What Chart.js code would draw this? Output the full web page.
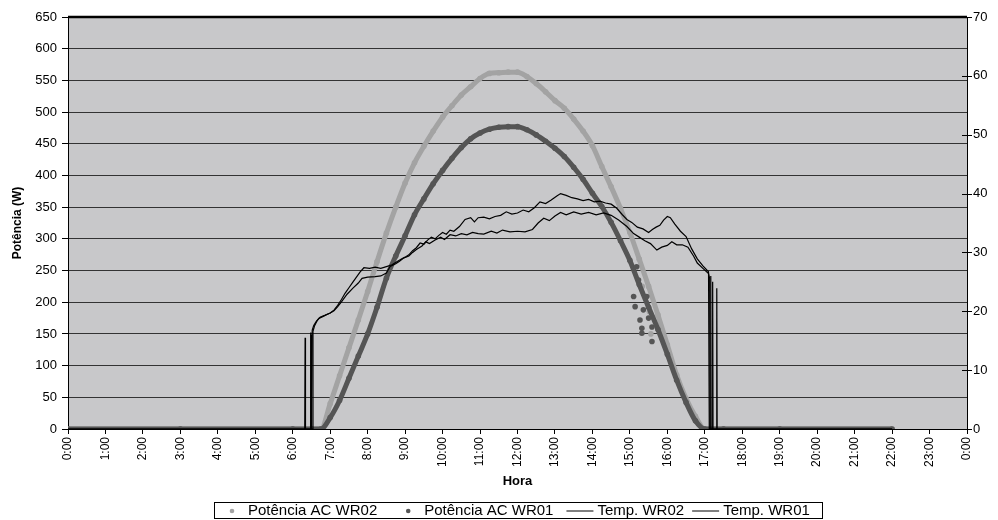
<!DOCTYPE html>
<html>
<head>
<meta charset="utf-8">
<script src="https://cdn.jsdelivr.net/npm/chart.js@4.4.1/dist/chart.umd.min.js"></script>
<style>
  html, body { margin: 0; padding: 0; background: #ffffff; }
  #wrap { width: 998px; height: 520px; }
</style>
</head>
<body>
<div id="wrap"><canvas id="chart" width="998" height="520"></canvas></div>
<script>
// Time of day in hours for the AC power readings
const powerHours = [0, 3, 6, 6.5,
  6.75, 7.0, 7.25, 7.5, 7.75, 8.0, 8.25, 8.5, 8.75, 9.0, 9.25, 9.5, 9.75,
  10.0, 10.25, 10.5, 10.75, 11.0, 11.25, 11.5, 11.75, 12.0, 12.25, 12.5, 12.75,
  13.0, 13.25, 13.5, 13.75, 14.0, 14.25, 14.5, 14.75, 15.0, 15.25, 15.5, 15.75,
  16.0, 16.25, 16.5, 16.75, 17.0,
  17.5, 19, 22];

// AC power (W)
const powerWR02 = [0, 0, 0, 0,
  0, 40, 84, 128, 172, 217, 264, 309, 350, 388, 420, 446, 470,
  492, 510, 527, 540, 553, 561, 562, 563, 563, 556, 545, 532,
  518, 506, 489, 470, 447, 414, 382, 348, 310, 268, 225, 180,
  133, 85, 48, 20, 0,
  0, 0, 0];
const powerWR01 = [0, 0, 0, 0,
  0, 18, 45, 80, 115, 150, 192, 238, 273, 305, 338, 363, 387,
  408, 427, 444, 458, 467, 473, 476, 477, 477, 472, 464, 454,
  443, 430, 413, 394, 372, 351, 326, 297, 266, 228, 192, 157,
  118, 77, 42, 13, 0,
  0, 0, 0];

// Scattered afternoon readings (passing clouds)
const dipHoursWR01 = [15.10, 15.14, 15.18, 15.23, 15.27, 15.32, 15.32, 15.36, 15.45, 15.50, 15.59, 15.59];
const dipPowerWR01 = [209, 193, 256, 235, 172, 159, 151, 188, 209, 175, 161, 138];
const dipHoursWR02 = [15.33, 15.52, 15.56];
const dipPowerWR02 = [225, 185, 150];

// Inverter temperature (°C)
const tempHoursWR02 = [0, 6.32, 6.33, 6.34, 6.47, 6.48, 6.49, 6.51, 6.52, 6.56, 6.62, 6.7, 6.8, 6.9,
  7.0, 7.1, 7.2, 7.3, 7.4, 7.5, 7.6, 7.7, 7.8, 7.9, 8.05, 8.2, 8.35, 8.5, 8.65, 8.8, 8.9,
  9.0, 9.1, 9.2, 9.3, 9.4, 9.5, 9.6, 9.7, 9.8, 9.9, 10.0, 10.1, 10.2, 10.3, 10.45, 10.6,
  10.75, 10.85, 10.95, 11.1, 11.25, 11.4, 11.55, 11.7, 11.85, 12.0, 12.15, 12.3, 12.45,
  12.6, 12.75, 12.9, 13.05, 13.15, 13.3, 13.45, 13.6, 13.75, 13.9, 14.05, 14.2, 14.35,
  14.5, 14.65, 14.8, 14.92, 15.05, 15.2, 15.35, 15.5, 15.6, 15.7, 15.8, 15.9, 16.0,
  16.08, 16.2, 16.35, 16.5, 16.65, 16.8, 16.95, 17.1, 17.12, 17.15, 17.16, 17.17, 22.0];
const tempWR02 = [0, 0, 15.5, 0, 0, 16.4, 0, 0, 16.8, 17.6, 18.2, 18.8, 19.1, 19.4,
  19.7, 20.2, 21.0, 22.0, 23.1, 24.0, 24.9, 25.8, 26.7, 27.4, 27.3, 27.5, 27.3, 27.6, 27.9, 28.5, 28.9,
  29.2, 29.6, 30.3, 30.8, 31.6, 31.4, 32.1, 32.6, 32.3, 32.9, 33.4, 33.1, 33.8, 33.6, 34.4, 35.6,
  35.9, 35.2, 35.9, 36.0, 35.7, 36.1, 36.3, 36.9, 36.5, 36.7, 37.2, 36.9, 37.6,
  38.6, 38.3, 38.9, 39.6, 40.0, 39.7, 39.3, 39.1, 38.8, 39.0, 38.6, 38.7, 38.4,
  38.2, 37.5, 36.4, 35.6, 35.1, 34.3, 34.0, 33.4, 33.9, 34.3, 34.6, 35.5, 36.1,
  35.9, 34.8, 33.6, 32.7, 30.6, 28.9, 27.7, 26.7, 0, 0, 26.0, 0, 0];

const tempHoursWR01 = [0, 6.48, 6.49, 6.5, 6.53, 6.54, 6.58, 6.65, 6.73, 6.85,
  7.0, 7.1, 7.2, 7.3, 7.45, 7.6, 7.75, 7.85, 8.0, 8.2, 8.35, 8.5, 8.6, 8.75, 8.85, 8.95,
  9.1, 9.2, 9.3, 9.45, 9.55, 9.65, 9.8, 9.95, 10.05, 10.2, 10.35, 10.5, 10.65, 10.8, 10.95,
  11.1, 11.3, 11.45, 11.6, 11.8, 12.0, 12.2, 12.4, 12.55, 12.7, 12.85, 13.0, 13.15, 13.3,
  13.5, 13.7, 13.9, 14.1, 14.3, 14.5, 14.7, 14.92, 15.1, 15.25, 15.4, 15.55, 15.72, 15.85,
  16.0, 16.12, 16.25, 16.4, 16.55, 16.7, 16.8, 16.95, 17.1, 17.13, 17.14, 17.2, 17.21, 17.22,
  17.31, 17.32, 17.33, 22.0];
const tempWR01 = [0, 0, 16.0, 0, 0, 16.6, 17.5, 18.4, 19.0, 19.3,
  19.7, 20.1, 20.8, 21.6, 22.9, 23.9, 24.8, 25.6, 25.8, 25.9, 26.0, 26.5, 27.6, 28.1, 28.5, 29.0,
  29.4, 30.0, 30.5, 31.1, 31.8, 31.5, 32.1, 32.6, 32.2, 33.0, 32.8, 33.2, 33.0, 33.4, 33.2,
  33.1, 33.6, 33.3, 33.8, 33.5, 33.6, 33.5, 33.9, 35.0, 35.8, 35.4, 36.2, 36.8, 36.4,
  36.9, 36.5, 36.8, 36.4, 36.7, 36.3, 35.5, 34.4, 33.2, 32.6, 32.0, 31.5, 30.4, 30.9,
  31.2, 31.8, 31.3, 31.3, 30.9, 29.4, 28.2, 27.3, 26.4, 25.6, 0, 0, 25.0, 0,
  0, 23.9, 0, 0];

const seriesLabels = ['Potência AC WR02', 'Potência AC WR01', 'Temp. WR02', 'Temp. WR01'];

const LIGHT = '#a3a3a3';
const DARK = '#555555';
const FONT = '"Liberation Sans", Arial, sans-serif';

const xy = (hs, vs) => hs.map((h, i) => ({ x: h, y: vs[i] }));

function hourLabel(v) {
  return (v % 24) + ':00';
}

// Plot background, heavy top rule, right-axis ticks and the boxed legend
const framePlugin = {
  id: 'framePlugin',
  beforeDraw(chart) {
    const { ctx, chartArea: a } = chart;
    ctx.save();
    ctx.fillStyle = '#c8c8ca';
    ctx.fillRect(a.left, a.top, a.right - a.left, a.bottom - a.top);
    ctx.restore();
  },
  afterDraw(chart) {
    const { ctx, chartArea: a } = chart;
    ctx.save();
    ctx.strokeStyle = '#000';
    ctx.lineWidth = 2.5;
    ctx.beginPath();
    ctx.moveTo(a.left, a.top);
    ctx.lineTo(a.right, a.top);
    ctx.stroke();
    ctx.lineWidth = 1;
    ctx.beginPath();
    ctx.moveTo(a.right + 0.5, a.top);
    ctx.lineTo(a.right + 0.5, a.bottom);
    ctx.stroke();
    // crossing ticks on the right axis
    const y2 = chart.scales.y2;
    y2.ticks.forEach(t => {
      const py = Math.round(y2.getPixelForValue(t.value)) + 0.5;
      ctx.beginPath();
      ctx.moveTo(a.right - 5, py);
      ctx.lineTo(a.right + 5, py);
      ctx.stroke();
    });

    // legend: dot / line swatch followed by the series name
    ctx.font = '15px ' + FONT;
    ctx.textBaseline = 'middle';
    const items = chart.data.datasets.filter(d => d.legendKind);
    const padL = 18, padR = 12;
    const dotToText = 16, lineLen = 27, lineToText = 4;
    const gapBefore = { dot: 31, line: 13 };
    let total = padL + padR;
    items.forEach((d, i) => {
      if (i > 0) total += d.legendKind === 'dot' ? gapBefore.dot : (items[i - 1].legendKind === 'dot' ? gapBefore.line : 8);
      total += (d.legendKind === 'dot' ? dotToText : lineLen + lineToText) + ctx.measureText(d.label).width;
    });
    const cx = (a.left + a.right) / 2;
    const boxL = Math.round(cx - total / 2);
    const boxW = Math.round(total);
    const boxT = 502, boxH = 16;
    ctx.strokeStyle = '#000';
    ctx.lineWidth = 1;
    ctx.strokeRect(boxL + 0.5, boxT + 0.5, boxW, boxH);
    const ty = boxT + boxH / 2 + 1;
    let x = boxL + padL;
    items.forEach((d, i) => {
      if (i > 0) x += d.legendKind === 'dot' ? gapBefore.dot : (items[i - 1].legendKind === 'dot' ? gapBefore.line : 8);
      if (d.legendKind === 'dot') {
        ctx.fillStyle = d.borderColor;
        ctx.beginPath();
        ctx.arc(x, ty, 2.3, 0, Math.PI * 2);
        ctx.fill();
        x += dotToText;
      } else {
        ctx.strokeStyle = '#000';
        ctx.lineWidth = 1;
        ctx.beginPath();
        ctx.moveTo(x, ty);
        ctx.lineTo(x + lineLen, ty);
        ctx.stroke();
        x += lineLen + lineToText;
      }
      ctx.fillStyle = '#000';
      ctx.fillText(d.label, x, ty);
      x += ctx.measureText(d.label).width;
    });
    ctx.restore();
  }
};

const powerStyle = color => ({
  borderColor: color,
  backgroundColor: color,
  borderWidth: 5,
  pointRadius: 2.8,
  pointHoverRadius: 2.8,
  pointBorderWidth: 0,
  cubicInterpolationMode: 'monotone',
  showLine: true,
  yAxisID: 'y'
});

const tempStyle = {
  borderColor: '#000',
  backgroundColor: '#000',
  borderWidth: 1.2,
  pointRadius: 0,
  tension: 0,
  showLine: true,
  yAxisID: 'y2'
};

new Chart(document.getElementById('chart'), {
  type: 'scatter',
  data: {
    datasets: [
      Object.assign({ label: seriesLabels[0], legendKind: 'dot', order: 4,
        data: xy(powerHours, powerWR02) }, powerStyle(LIGHT)),
      Object.assign({ label: seriesLabels[1], legendKind: 'dot', order: 2,
        data: xy(powerHours, powerWR01) }, powerStyle(DARK)),
      Object.assign({ label: seriesLabels[2], legendKind: 'line', order: 0,
        data: xy(tempHoursWR02, tempWR02) }, tempStyle),
      Object.assign({ label: seriesLabels[3], legendKind: 'line', order: 0,
        data: xy(tempHoursWR01, tempWR01) }, tempStyle),
      { label: seriesLabels[0], order: 3, data: xy(dipHoursWR02, dipPowerWR02),
        showLine: false, pointRadius: 2.8, pointBorderWidth: 0,
        backgroundColor: LIGHT, borderColor: LIGHT, yAxisID: 'y' },
      { label: seriesLabels[1], order: 1, data: xy(dipHoursWR01, dipPowerWR01),
        showLine: false, pointRadius: 2.8, pointBorderWidth: 0,
        backgroundColor: DARK, borderColor: DARK, yAxisID: 'y' }
    ]
  },
  options: {
    responsive: false,
    animation: false,
    devicePixelRatio: 1,
    layout: { padding: { top: 17, left: 0, right: 0, bottom: 26 } },
    plugins: {
      legend: { display: false },
      tooltip: { enabled: false },
      title: { display: false }
    },
    scales: {
      x: {
        type: 'linear',
        position: 'bottom',
        min: 0,
        max: 24,
        afterFit: s => { s.height = 65; },
        ticks: {
          stepSize: 1,
          autoSkip: false,
          minRotation: 90,
          maxRotation: 90,
          padding: 3,
          color: '#000',
          font: { family: FONT, size: 12 },
          callback: v => hourLabel(v)
        },
        grid: { drawOnChartArea: false, tickLength: 5, color: '#000', lineWidth: 1 },
        border: { color: '#000', width: 1 },
        title: {
          display: true,
          text: 'Hora',
          color: '#000',
          font: { family: FONT, size: 13, weight: 'bold' },
          padding: { top: 0, bottom: 5 }
        }
      },
      y: {
        position: 'left',
        min: 0,
        max: 650,
        afterFit: s => { s.width = 68; },
        ticks: {
          stepSize: 50,
          padding: 5,
          color: '#000',
          font: { family: FONT, size: 13 }
        },
        grid: { color: '#333', lineWidth: 1, tickLength: 6, tickColor: '#000' },
        border: { color: '#000', width: 1 },
        title: {
          display: true,
          text: 'Potência (W)',
          color: '#000',
          font: { family: FONT, size: 12, weight: 'bold' },
          padding: { top: 10, bottom: 0 }
        }
      },
      y2: {
        position: 'right',
        min: 0,
        max: 70,
        afterFit: s => { s.width = 31; },
        ticks: {
          stepSize: 10,
          padding: 6,
          color: '#000',
          font: { family: FONT, size: 13 }
        },
        grid: { drawOnChartArea: false, drawTicks: false, tickLength: 0 },
        border: { color: '#000', width: 1 }
      }
    }
  },
  plugins: [framePlugin]
});
</script>
</body>
</html>
